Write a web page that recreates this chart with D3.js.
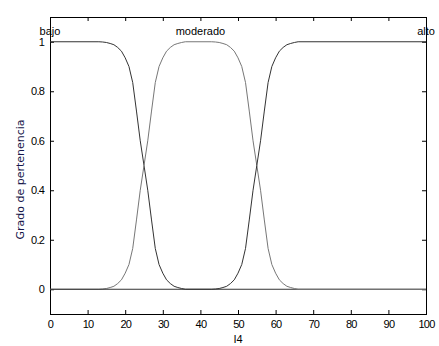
<!DOCTYPE html>
<html>
<head>
<meta charset="utf-8">
<script src="https://cdn.jsdelivr.net/npm/d3@7"></script>
<style>
  body { margin: 0; background: #fff; }
  svg { display: block; }
  text { font-family: "Liberation Sans", Arial, sans-serif; }
</style>
</head>
<body>
<div id="chart"></div>
<script>
// membership functions
const bajoX = [0, 13, 14, 15, 16, 17, 18, 19, 20, 21, 22, 23, 24, 25, 26, 27, 28, 29, 30, 31, 32, 33, 34, 35, 36, 100];
const bajoY = [1, 1, 0.999, 0.997, 0.993, 0.988, 0.977, 0.962, 0.935, 0.9, 0.835, 0.72, 0.6, 0.5, 0.4, 0.28, 0.165, 0.1, 0.065, 0.038, 0.023, 0.012, 0.007, 0.003, 0, 0];

const moderadoX = [0, 13, 14, 15, 16, 17, 18, 19, 20, 21, 22, 23, 24, 25, 26, 27, 28, 29, 30, 31, 32, 33, 34, 35, 36,
                   43, 44, 45, 46, 47, 48, 49, 50, 51, 52, 53, 54, 55, 56, 57, 58, 59, 60, 61, 62, 63, 64, 65, 66, 100];
const moderadoY = [0, 0, 0.001, 0.003, 0.007, 0.012, 0.023, 0.038, 0.065, 0.1, 0.165, 0.28, 0.4, 0.5, 0.6, 0.72, 0.835, 0.9, 0.935, 0.962, 0.977, 0.988, 0.993, 0.997, 1,
                   1, 0.999, 0.997, 0.993, 0.988, 0.977, 0.962, 0.935, 0.9, 0.835, 0.72, 0.6, 0.5, 0.4, 0.28, 0.165, 0.1, 0.065, 0.038, 0.023, 0.012, 0.007, 0.003, 0, 0];

const altoX = [0, 43, 44, 45, 46, 47, 48, 49, 50, 51, 52, 53, 54, 55, 56, 57, 58, 59, 60, 61, 62, 63, 64, 65, 66, 100];
const altoY = [0, 0, 0.001, 0.003, 0.007, 0.012, 0.023, 0.038, 0.065, 0.1, 0.165, 0.28, 0.4, 0.5, 0.6, 0.72, 0.835, 0.9, 0.935, 0.962, 0.977, 0.988, 0.993, 0.997, 1, 1];

const mfNames = ["bajo", "moderado", "alto"];
const mfPeaks = [0, 40, 100];

const xTicks = [0, 10, 20, 30, 40, 50, 60, 70, 80, 90, 100];
const yTicks = [0, 0.2, 0.4, 0.6, 0.8, 1];
const yTickLabels = ["0", "0.2", "0.4", "0.6", "0.8", "1"];

const width = 439, height = 346;
const plotLeft = 50, plotRight = 426, plotTop = 17, plotBottom = 314;

const svg = d3.select("#chart").append("svg")
  .attr("width", width)
  .attr("height", height);

const x = d3.scaleLinear().domain([0, 100]).range([plotLeft, plotRight]);
const y = d3.scaleLinear().domain([-0.1, 1.1]).range([plotBottom, plotTop]);

// axes, ticks pointing inward like matlab
const tickLen = 4;
svg.append("g")
  .attr("transform", "translate(0," + plotBottom + ")")
  .call(d3.axisBottom(x).tickValues(xTicks).tickSize(-tickLen).tickPadding(6).tickFormat(d3.format("d")))
  .call(g => g.select(".domain").remove());
svg.append("g")
  .attr("transform", "translate(0," + plotTop + ")")
  .call(d3.axisTop(x).tickValues(xTicks).tickSize(-tickLen).tickFormat(""))
  .call(g => g.select(".domain").remove());
svg.append("g")
  .attr("transform", "translate(" + plotLeft + ",0)")
  .call(d3.axisLeft(y).tickValues(yTicks).tickSize(-tickLen).tickPadding(6).tickFormat((d, i) => yTickLabels[i]))
  .call(g => g.select(".domain").remove());
svg.append("g")
  .attr("transform", "translate(" + plotRight + ",0)")
  .call(d3.axisRight(y).tickValues(yTicks).tickSize(-tickLen).tickFormat(""))
  .call(g => g.select(".domain").remove());

svg.selectAll(".tick line").attr("stroke", "#000");
svg.selectAll(".tick text")
  .attr("fill", "#000")
  .style("font-size", "11px")
  .style("letter-spacing", "-0.8px");

// the box
svg.append("rect")
  .attr("x", plotLeft + 0.5)
  .attr("y", plotTop + 0.5)
  .attr("width", plotRight - plotLeft)
  .attr("height", plotBottom - plotTop)
  .attr("fill", "none")
  .attr("stroke", "#000");

const line = d3.line().x(d => x(d[0])).y(d => y(d[1]));
const series = [
  { xs: bajoX, ys: bajoY, color: "#333" },
  { xs: moderadoX, ys: moderadoY, color: "#777" },
  { xs: altoX, ys: altoY, color: "#333" }
];
series.forEach(s => {
  svg.append("path")
    .datum(s.xs.map((v, i) => [v, s.ys[i]]))
    .attr("d", line)
    .attr("fill", "none")
    .attr("stroke", s.color)
    .attr("stroke-width", 1);
});

// mf names above the peaks
svg.selectAll(".mfname")
  .data(mfNames)
  .enter()
  .append("text")
  .attr("class", "mfname")
  .attr("x", (d, i) => x(mfPeaks[i]))
  .attr("y", y(1) - 7)
  .attr("text-anchor", "middle")
  .style("font-size", "11px")
  .attr("fill", "#000")
  .text(d => d);

// axis titles
svg.append("text")
  .attr("x", (plotLeft + plotRight) / 2)
  .attr("y", 343)
  .attr("text-anchor", "middle")
  .style("font-size", "11px")
  .text("I4");

svg.append("text")
  .attr("transform", "translate(24," + ((plotTop + plotBottom) / 2 + 14) + ") rotate(-90)")
  .attr("text-anchor", "middle")
  .style("font-family", "'DejaVu Sans', Verdana, sans-serif")
  .style("font-size", "11px")
  .attr("fill", "#15154a")
  .text("Grado de pertenencia");
</script>
</body>
</html>
